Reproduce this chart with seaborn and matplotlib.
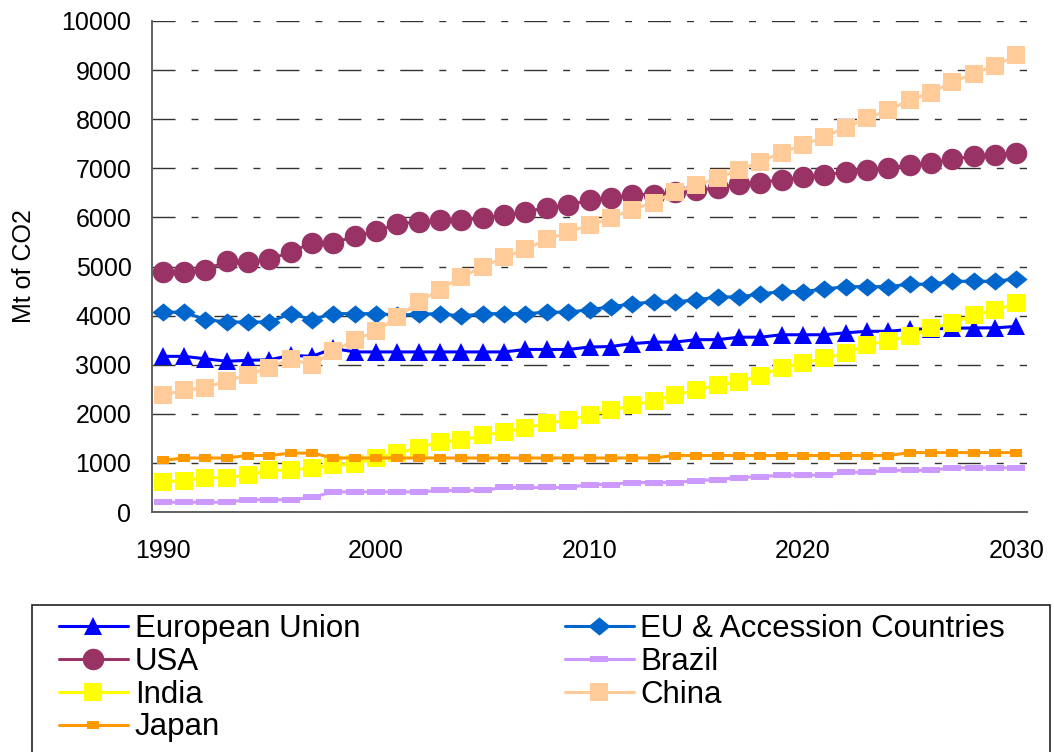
import matplotlib
matplotlib.use("Agg")
import matplotlib.pyplot as plt
import seaborn as sns
from matplotlib.patches import Rectangle

# data: Mt of CO2 per year, 1990 - 2030
years = list(range(1990, 2031))

eu = [3170, 3170, 3120, 3070, 3090, 3100, 3190, 3170, 3330, 3260,
      3260, 3260, 3260, 3260, 3260, 3260, 3260, 3310, 3310, 3310,
      3360, 3370, 3430, 3460, 3460, 3510, 3510, 3560, 3560, 3610,
      3610, 3610, 3650, 3680, 3680, 3720, 3730, 3740, 3750, 3750, 3780]
eu_acc = [4070, 4070, 3920, 3870, 3870, 3870, 4040, 3920, 4040, 4040,
          4040, 4010, 4030, 4040, 3990, 4040, 4040, 4040, 4070, 4070,
          4120, 4180, 4240, 4280, 4280, 4320, 4380, 4380, 4440, 4490,
          4490, 4540, 4590, 4590, 4590, 4640, 4640, 4700, 4700, 4700, 4750]
usa = [4880, 4880, 4935, 5105, 5090, 5145, 5295, 5485, 5480, 5615,
       5715, 5870, 5905, 5940, 5940, 5995, 6040, 6110, 6200, 6245,
       6360, 6395, 6465, 6465, 6510, 6550, 6600, 6680, 6710, 6770,
       6820, 6870, 6920, 6970, 7010, 7070, 7110, 7180, 7250, 7280, 7320]
brazil = [200, 200, 200, 200, 250, 250, 250, 300, 410, 410,
          410, 410, 410, 440, 440, 440, 500, 500, 500, 500,
          560, 560, 600, 600, 600, 640, 660, 700, 720, 750,
          750, 750, 810, 810, 850, 850, 850, 900, 900, 900, 900]
india = [610, 640, 700, 700, 750, 850, 850, 900, 950, 980,
         1100, 1200, 1310, 1430, 1460, 1560, 1630, 1710, 1810, 1870,
         1970, 2070, 2170, 2270, 2380, 2480, 2580, 2650, 2780, 2940,
         3030, 3130, 3230, 3400, 3490, 3580, 3740, 3850, 4010, 4110, 4250]
china = [2380, 2480, 2530, 2670, 2800, 2940, 3120, 2990, 3280, 3500,
         3680, 3970, 4280, 4530, 4790, 4990, 5190, 5350, 5550, 5700,
         5840, 5990, 6160, 6300, 6520, 6650, 6800, 6970, 7130, 7320,
         7470, 7640, 7830, 8020, 8180, 8390, 8540, 8750, 8930, 9090, 9300]
japan = [1050, 1100, 1100, 1100, 1150, 1150, 1200, 1200, 1100, 1100,
         1100, 1100, 1100, 1100, 1100, 1100, 1100, 1100, 1100, 1100,
         1100, 1100, 1100, 1100, 1150, 1150, 1150, 1150, 1150, 1150,
         1150, 1150, 1150, 1150, 1150, 1210, 1210, 1210, 1210, 1210, 1210]

names = ["European Union", "EU & Accession Countries", "USA", "Brazil",
         "India", "China", "Japan"]
values = [eu, eu_acc, usa, brazil, india, china, japan]
colors = ["#0000FF", "#0066CC", "#993366", "#CC99FF", "#FFFF00", "#FFCC99", "#FF9900"]

# marker shapes (flat rectangles for Brazil / Japan, flattened diamond for EU & AC)
diamond = [(-1, 0), (0, 0.82), (1, 0), (0, -0.82), (-1, 0)]
flat_rect = [(-1, -0.37), (1, -0.37), (1, 0.37), (-1, 0.37), (-1, -0.37)]
small_rect = [(-1, -0.6), (1, -0.6), (1, 0.6), (-1, 0.6), (-1, -0.6)]
markers = ["^", diamond, "o", flat_rect, "s", "s", small_rect]
msizes = [13, 16, 15.5, 13.5, 13, 13, 8.6]

sns.set_style("white")
plt.rcParams['font.family'] = ['Liberation Sans', 'DejaVu Sans']
plt.rcParams['text.color'] = 'black'
plt.rcParams['axes.labelcolor'] = 'black'
plt.rcParams['xtick.color'] = 'black'
plt.rcParams['ytick.color'] = 'black'

fig = plt.figure(figsize=(10.54, 7.52), dpi=100)
W, H = 1054, 752
ax = fig.add_axes([152 / W, 1 - 512 / H, (1027 - 152) / W, (512 - 21) / H])

for name, vals, col, mk, ms in zip(names, values, colors, markers, msizes):
    sns.lineplot(x=years, y=vals, ax=ax, color=col, marker=mk, markersize=ms,
                 markeredgecolor=col, markeredgewidth=0, linewidth=2.2,
                 label=name, legend=False)

if ax.get_legend() is not None:
    ax.get_legend().remove()

ax.set_xlim(1989.5, 2030.5)
ax.set_ylim(0, 10000)
ax.set_yticks(range(0, 10001, 1000))
ax.set_yticklabels([str(v) for v in range(0, 10001, 1000)], fontsize=18)

# category-style x axis: ticks between categories, labels at category centres
ax.set_xticks([1989.5 + 5 * k for k in range(9)])
ax.set_xticklabels([])
ax.set_xticks([1990, 2000, 2010, 2020, 2030], minor=True)
ax.set_xticklabels(["1990", "2000", "2010", "2020", "2030"], minor=True, fontsize=18)
ax.tick_params(axis="x", which="major", direction="out", length=5.5, width=1, color="#333333")
ax.tick_params(axis="x", which="minor", length=0, pad=19.5)
ax.tick_params(axis="y", direction="out", length=5.8, width=1, color="#333333", pad=9)

ax.yaxis.grid(True, color="#333333", linewidth=1, linestyle=(0, (16.6, 11.5, 5, 11.5)))
ax.set_axisbelow(True)
for s in ["top", "right"]:
    ax.spines[s].set_visible(False)
for s in ["left", "bottom"]:
    ax.spines[s].set_color("#555555")
    ax.spines[s].set_linewidth(1.3)

ax.set_xlabel("")
ax.set_ylabel("Mt of CO2", fontsize=18)
ax.yaxis.set_label_coords(-0.133, 0.5)

# legend frame (bottom runs off the figure)
fig.patches.append(Rectangle((32 / W, -0.05), (1050 - 32) / W, 0.05 + 1 - 605 / H,
                             transform=fig.transFigure, fill=False,
                             edgecolor="#222222", linewidth=1.2))

handles, labels = ax.get_legend_handles_labels()
order = [0, 2, 4, 6, 1, 3, 5]
fig.legend([handles[i] for i in order], [labels[i] for i in order],
           loc="upper left", bbox_to_anchor=(59 / W, 1 - 614 / H),
           ncol=2, frameon=False, fontsize=22.5, borderpad=0, borderaxespad=0,
           handlelength=2.2, handletextpad=0.22, labelspacing=0.09,
           columnspacing=6.55, handleheight=0.7)

fig.savefig("out.png", dpi=100)
